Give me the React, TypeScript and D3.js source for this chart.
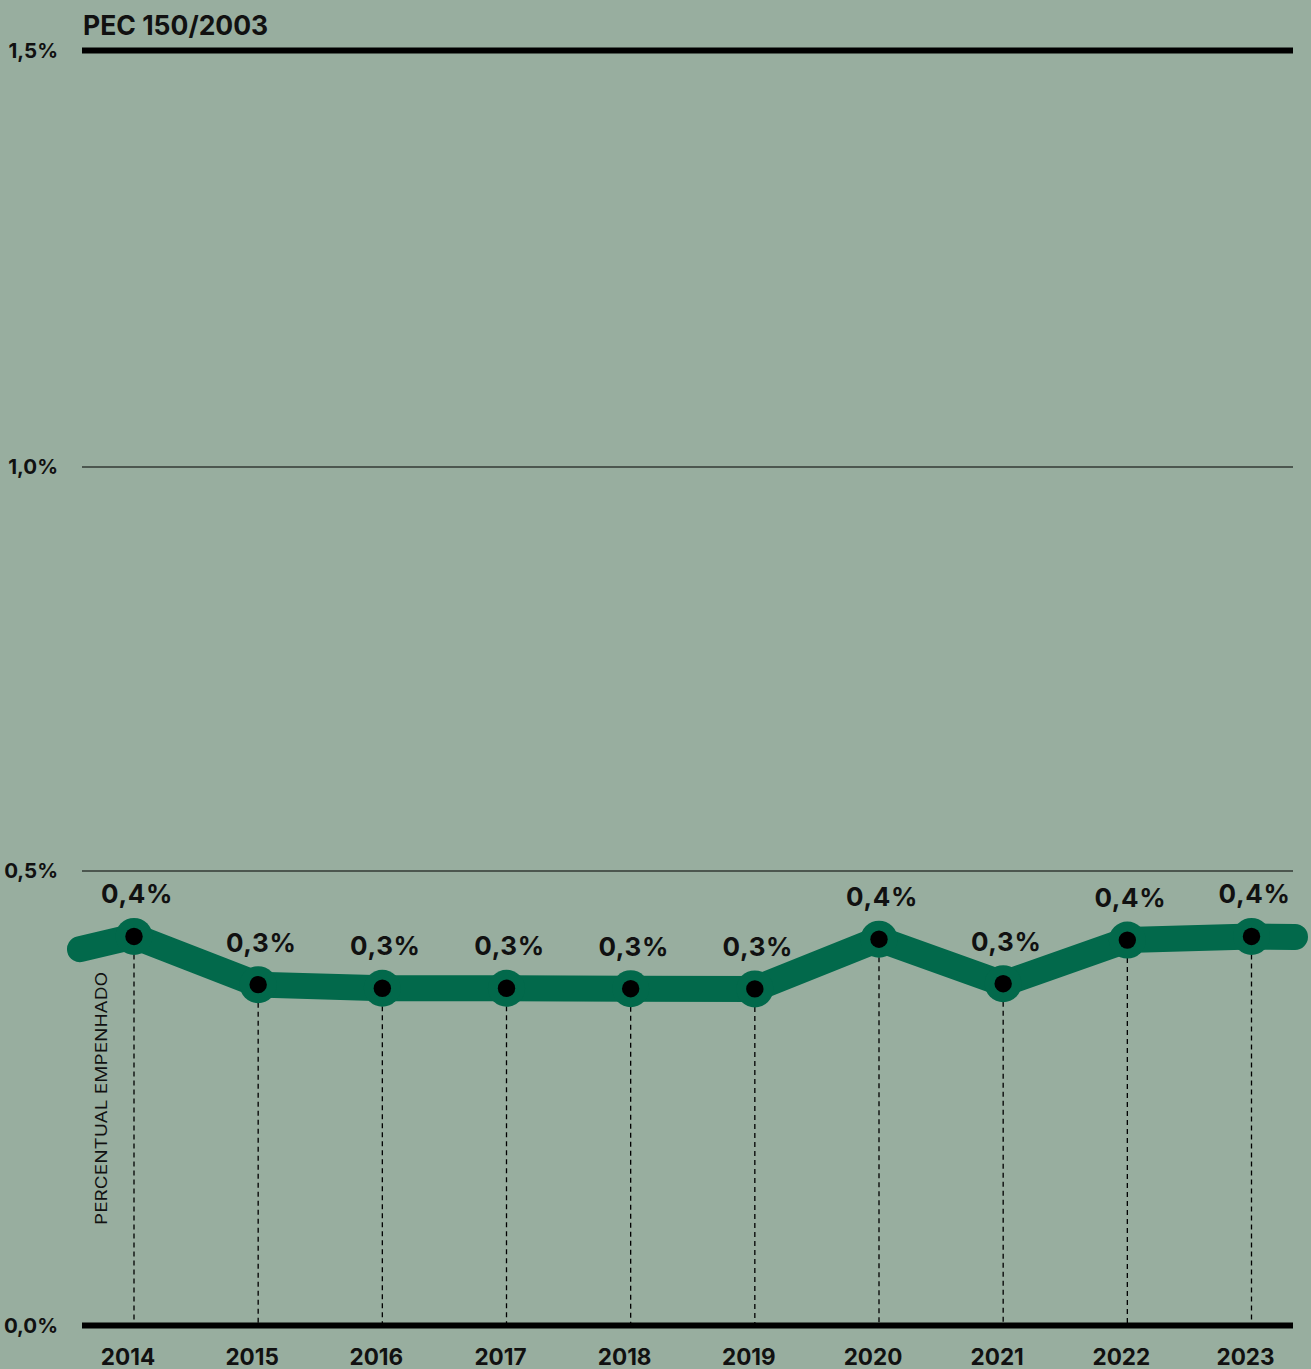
import React, { useEffect, useRef } from 'react';
import * as d3 from 'd3';

// dados
const years = [2014, 2015, 2016, 2017, 2018, 2019, 2020, 2021, 2022, 2023];
const values = [0.428, 0.375, 0.371, 0.371, 0.3705, 0.3703, 0.425, 0.376, 0.424, 0.428];
const labels = ['0,4%', '0,3%', '0,3%', '0,3%', '0,3%', '0,3%', '0,4%', '0,3%', '0,4%', '0,4%'];
// valores da linha nas bordas do gráfico (esquerda, direita)
const edgeValues = [0.414, 0.4275];
const yTicks = [0, 0.5, 1, 1.5];
const yTickLabels = ['0,0%', '0,5%', '1,0%', '1,5%'];
const title = 'PEC 150/2003';
const axisTitle = 'PERCENTUAL EMPENHADO';

const BG = '#98ae9f';
const GREEN = '#02694b';
const FONT = 'Inter, "Noto Sans", sans-serif';

export const App: React.FC = () => {
    const ref = useRef<SVGSVGElement>(null);
    const width = 1311;
    const height = 1369;
    const plotLeft = 82;
    const plotRight = 1293;

    useEffect(() => {
        drawChart();
        //eslint-disable-next-line
    }, []);

    const drawChart = () => {
        const svg = d3.select(ref.current);
        svg.selectAll('*').remove();

        svg.append('rect').attr('width', width).attr('height', height).attr('fill', BG);

        const xScale = d3.scaleLinear().domain([2014, 2023]).range([134, 1251.5]);
        // grade não uniforme no original
        const yScale = d3.scaleLinear().domain(yTicks).range([1325.5, 871, 467, 50.5]);

        // linhas tracejadas
        svg.append('g')
            .selectAll('line')
            .data(years)
            .enter()
            .append('line')
            .attr('x1', d => xScale(d))
            .attr('x2', d => xScale(d))
            .attr('y1', (d, i) => yScale(values[i]))
            .attr('y2', yScale(0))
            .attr('stroke', '#000')
            .attr('stroke-width', 1.3)
            .attr('stroke-dasharray', '5,4');

        // grade
        const grid = svg.append('g');
        yTicks.forEach((t, i) => {
            const thick = t === 0 || t === 1.5;
            grid.append('line')
                .attr('x1', plotLeft)
                .attr('x2', plotRight)
                .attr('y1', yScale(t))
                .attr('y2', yScale(t))
                .attr('stroke', '#000')
                .attr('stroke-width', thick ? 6 : 1.2);
            grid.append('text')
                .attr('x', 58)
                .attr('y', yScale(t) + 7)
                .attr('text-anchor', 'end')
                .attr('font-family', FONT)
                .attr('font-weight', 700)
                .attr('font-size', 20.5)
                .attr('fill', '#111')
                .text(yTickLabels[i]);
        });

        // título
        svg.append('text')
            .attr('x', 83)
            .attr('y', 35)
            .attr('font-family', FONT)
            .attr('font-weight', 700)
            .attr('font-size', 26.5)
            .attr('fill', '#111')
            .text(title);

        // linha
        const pts: [number, number][] = [
            [plotLeft - 2, yScale(edgeValues[0])],
            ...years.map((y, i) => [xScale(y), yScale(values[i])] as [number, number]),
            [plotRight + 2, yScale(edgeValues[1])],
        ];
        svg.append('path')
            .attr('d', d3.line()(pts))
            .attr('fill', 'none')
            .attr('stroke', GREEN)
            .attr('stroke-width', 26)
            .attr('stroke-linecap', 'round')
            .attr('stroke-linejoin', 'round');

        const dots = svg.append('g');
        dots.selectAll('.halo')
            .data(years)
            .enter()
            .append('circle')
            .attr('class', 'halo')
            .attr('cx', d => xScale(d))
            .attr('cy', (d, i) => yScale(values[i]))
            .attr('r', 18.5)
            .attr('fill', GREEN);
        dots.selectAll('.dot')
            .data(years)
            .enter()
            .append('circle')
            .attr('class', 'dot')
            .attr('cx', d => xScale(d))
            .attr('cy', (d, i) => yScale(values[i]))
            .attr('r', 8.7)
            .attr('fill', '#000');

        // rótulos
        svg.append('g')
            .selectAll('text')
            .data(years)
            .enter()
            .append('text')
            .attr('x', d => xScale(d) + 3)
            .attr('y', (d, i) => yScale(values[i]) - 33)
            .attr('text-anchor', 'middle')
            .attr('font-family', FONT)
            .attr('font-weight', 700)
            .attr('font-size', 26)
            .attr('letter-spacing', 0.6)
            .attr('fill', '#111')
            .text((d, i) => labels[i]);

        // eixo x
        svg.append('g')
            .selectAll('text')
            .data(years)
            .enter()
            .append('text')
            .attr('x', d => xScale(d) - 6)
            .attr('y', 1365)
            .attr('text-anchor', 'middle')
            .attr('font-family', FONT)
            .attr('font-weight', 700)
            .attr('font-size', 22.5)
            .attr('fill', '#111')
            .text(d => String(d));

        svg.append('text')
            .attr('transform', 'translate(107,1225) rotate(-90)')
            .attr('font-family', FONT)
            .attr('font-weight', 400)
            .attr('font-size', 15.5)
            .attr('textLength', 253)
            .attr('lengthAdjust', 'spacingAndGlyphs')
            .attr('fill', '#111')
            .text(axisTitle);
    };

    return <svg ref={ref} width={width} height={height} style={{ position: 'absolute', left: 0, top: 0 }}></svg>;
};

export default App;
